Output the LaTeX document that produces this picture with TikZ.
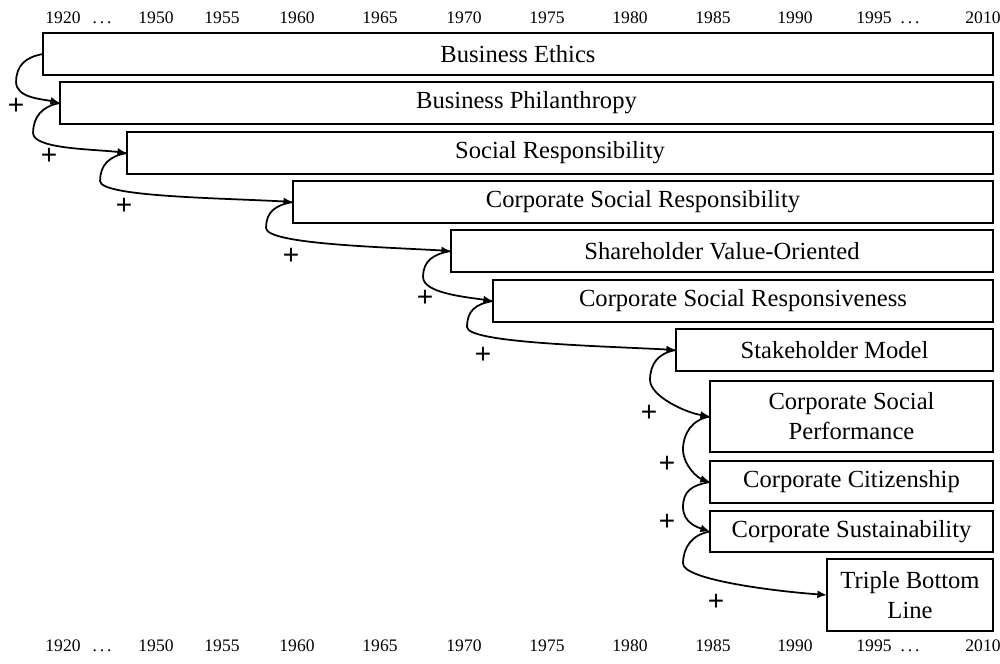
\documentclass[tikz,border=0pt]{standalone}
\usepackage{fontspec}
\setmainfont{Liberation Serif}
\newfontfamily\plusfont{Liberation Sans}
\usetikzlibrary{arrows.meta}
\newcommand\conn[6]{%
  \draw[arr] (#1.west) .. controls +(-18,3) and +(0,-16) .. ++(#3,#4)
    .. controls +(0,16) and +(-#5,-4) .. (#2.west);
  \node[pl] (p#1) at #6 {+};}
\newcommand\dts{.\hspace{1.6pt}.\hspace{1.6pt}.}
\begin{document}
\begin{tikzpicture}[x=0.02cm,y=-0.02cm,
  box/.style={draw, line width=0.8pt, inner sep=0pt, outer sep=0pt, align=center,
    font=\fontsize{14}{17}\selectfont, minimum height=0.84cm},
  yr/.style={font=\fontsize{10}{12}\selectfont, inner sep=0pt},
  pl/.style={font=\plusfont\fontsize{16}{16}\selectfont, inner sep=0pt},
  arr/.style={line width=1pt, -{Latex[length=5.5pt,width=4.5pt]}}]
\useasboundingbox (0,0) rectangle (1000,663);
% year labels
\foreach \x/\t [count=\i] in {63/1920,102/\dts,156/1950,222/1955,297/1960,380/1965,464/1970,547/1975,630/1980,713/1985,795/1990,874/1995,910/\dts,983/2010}{
  \node[yr, anchor=base] (top\i) at (\x,23) {\t};
  \node[yr, anchor=base] (bot\i) at (\x,651) {\t};
}
% boxes
\node[box, minimum width=19.0cm]  (be)   at (518,54)    {Business Ethics};
\node[box, minimum width=18.66cm] (bp)   at (526.5,103) {Business Philanthropy};
\node[box, minimum width=17.32cm] (sr)   at (560,153)   {Social Responsibility};
\node[box, minimum width=14.0cm]  (csr)  at (643,202)   {Corporate Social\ Responsibility};
\node[box, minimum width=10.84cm] (svo)  at (722,251)   {Shareholder Value-Oriented};
\node[box, minimum width=10.0cm]  (csrv) at (743,301)   {Corporate Social Responsiveness};
\node[box, minimum width=6.34cm]  (sm)   at (834.5,350) {Stakeholder Model};
\node[box, minimum width=5.66cm, minimum height=1.42cm] (csp) at (851.5,416.5) {Corporate Social\\Performance};
\node[box, minimum width=5.66cm]  (cc)   at (851.5,482) {Corporate Citizenship};
\node[box, minimum width=5.66cm, minimum height=0.82cm] (cs) at (851.5,531.5) {Corporate Sustainability};
\node[box, minimum width=3.32cm, minimum height=1.44cm] (tbl) at (910,595) {Triple Bottom\\Line};
% connectors
\conn{be}{bp}{-27}{28}{18}{(16,106)}
\conn{bp}{sr}{-27}{30}{35}{(49,156)}
\conn{sr}{csr}{-27}{28}{70}{(124,206)}
\conn{csr}{svo}{-27}{26}{70}{(291,256)}
\conn{svo}{csrv}{-28}{26}{28}{(425,298)}
\conn{csrv}{sm}{-26}{26}{75}{(483,355)}
\conn{sm}{csp}{-26}{30}{25}{(649,413)}
\conn{csp}{cc}{-27}{33}{12}{(667,464)}
\conn{cc}{cs}{-27}{25}{12}{(667,522)}
\conn{cs}{tbl}{-27}{32}{55}{(716,602)}
\end{tikzpicture}
\end{document}
